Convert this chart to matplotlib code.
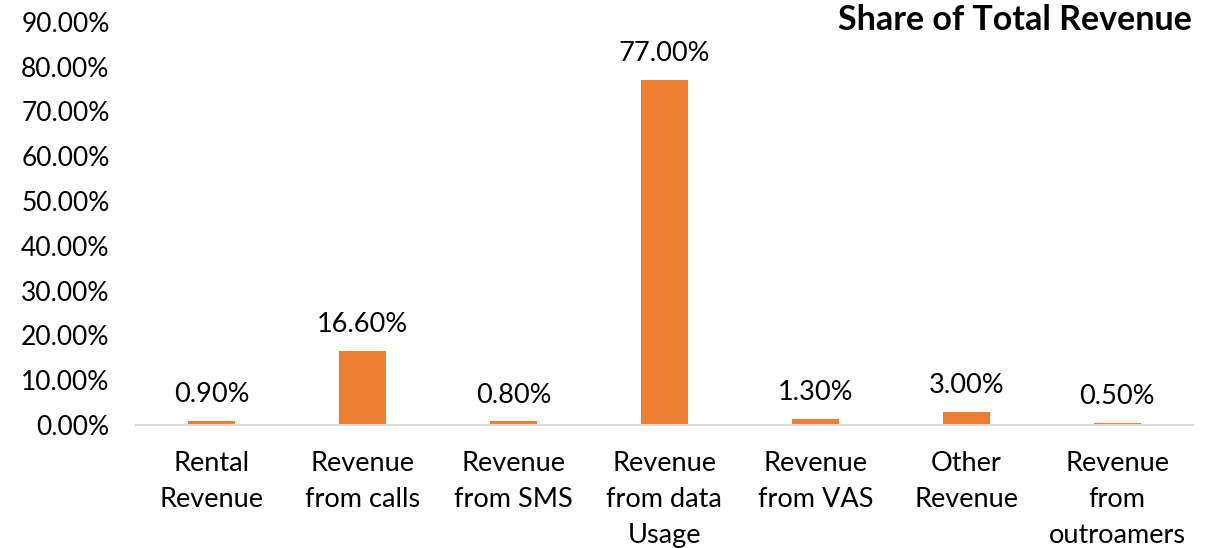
import matplotlib
matplotlib.use("Agg")
import matplotlib.pyplot as plt
import numpy as np

plt.rcParams['font.family'] = ['Lato', 'DejaVu Sans']

categories = ["Rental\nRevenue", "Revenue\nfrom calls", "Revenue\nfrom SMS",
              "Revenue\nfrom data\nUsage", "Revenue\nfrom VAS", "Other\nRevenue",
              "Revenue\nfrom\noutroamers"]
shares = [0.90, 16.60, 0.80, 77.00, 1.30, 3.00, 0.50]
yticks = [0, 10, 20, 30, 40, 50, 60, 70, 80, 90]

fig = plt.figure(figsize=(12.11, 5.48), dpi=100)
ax = fig.add_axes([0.1123, 0.2245, 0.8727, 0.7355])

x = np.arange(len(categories))
bars = ax.bar(x, shares, width=0.31, color="#ED7D31")

for b, v in zip(bars, shares):
    ax.annotate(f"{v:.2f}%", (b.get_x() + b.get_width() / 2, v),
                xytext=(0, 10), textcoords="offset points",
                ha="center", va="bottom", fontsize=19.5, color="#000000")

ax.set_xlim(-0.5, len(categories) - 0.5)
ax.set_ylim(0, 90)
ax.set_yticks(yticks)
ax.set_yticklabels([f"{t:.2f}%" for t in yticks], fontsize=19)
ax.set_xticks(x)
ax.set_xticklabels(categories, fontsize=19.5, linespacing=1.55, va="top")
ax.tick_params(axis="both", length=0)
ax.tick_params(axis="x", pad=19)
ax.tick_params(axis="y", pad=19)

for s in ["top", "right", "left"]:
    ax.spines[s].set_visible(False)
ax.spines["bottom"].set_color("#D9D9D9")
ax.spines["bottom"].set_linewidth(1.5)

fig.text(0.984, 0.963, "Share of Total Revenue", ha="right", va="center",
         fontsize=24.5, fontweight="bold")

fig.savefig("out.png", dpi=100)
